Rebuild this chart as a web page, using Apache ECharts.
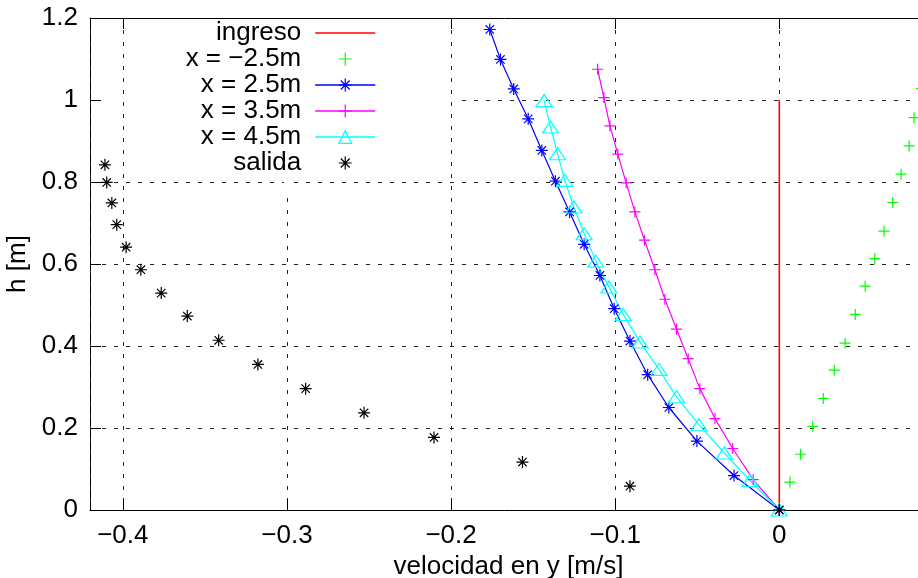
<!DOCTYPE html>
<html>
<head>
<meta charset="utf-8">
<title>velocidad en y</title>
<script src="https://cdn.jsdelivr.net/npm/echarts@6/dist/echarts.min.js"></script>
<style>
  html, body { margin: 0; padding: 0; background: #fff; }
  #main { width: 918px; height: 578px; }
</style>
</head>
<body>
<div id="main"></div>
<script>
// datos: h [m] y velocidad en y [m/s]
var ingresoH = [0, 1.0];
var ingresoV = [0, 0];

var xm25H = [0, 0.068, 0.136, 0.204, 0.272, 0.341, 0.407, 0.477, 0.546, 0.613, 0.680, 0.750, 0.819, 0.888, 0.957, 1.028];
var xm25V = [0, 0.0065, 0.013, 0.0204, 0.0268, 0.0335, 0.0401, 0.0463, 0.0523, 0.0582, 0.0638, 0.0691, 0.0742, 0.0791, 0.0821, 0.0865];

var x25H = [0, 0.084, 0.168, 0.250, 0.330, 0.412, 0.491, 0.572, 0.648, 0.727, 0.802, 0.877, 0.954, 1.027, 1.099, 1.172];
var x25V = [0, -0.0276, -0.0502, -0.0673, -0.0802, -0.091, -0.1006, -0.1093, -0.1189, -0.1278, -0.1364, -0.1447, -0.1530, -0.1618, -0.1699, -0.1764];

var x35H = [0, 0.074, 0.150, 0.223, 0.296, 0.369, 0.441, 0.514, 0.586, 0.658, 0.727, 0.798, 0.868, 0.937, 1.006, 1.075];
var x35V = [0, -0.0159, -0.0284, -0.0392, -0.0484, -0.0555, -0.0626, -0.0697, -0.0758, -0.0821, -0.088, -0.0933, -0.0984, -0.1032, -0.1069, -0.1107];

var x45H = [0, 0.072, 0.139, 0.208, 0.276, 0.343, 0.410, 0.477, 0.544, 0.607, 0.674, 0.739, 0.804, 0.869, 0.934, 0.999];
var x45V = [0, -0.0179, -0.0335, -0.049, -0.0626, -0.0733, -0.0849, -0.0951, -0.1038, -0.1118, -0.1189, -0.1252, -0.1307, -0.1351, -0.1394, -0.1433];

var salidaH = [0, 0.058, 0.117, 0.177, 0.237, 0.296, 0.355, 0.414, 0.473, 0.529, 0.586, 0.641, 0.696, 0.749, 0.799, 0.842];
var salidaV = [0, -0.091, -0.1565, -0.2104, -0.2530, -0.2886, -0.3177, -0.3416, -0.3607, -0.3766, -0.389, -0.398, -0.4037, -0.4067, -0.4098, -0.4109];

var names = ['ingreso', 'x = \u22122.5m', 'x = 2.5m', 'x = 3.5m', 'x = 4.5m', 'salida'];
var colors = ['#ff0000', '#00ff00', '#0000ff', '#ff00ff', '#00ffff', '#000000'];

var FONT = '"Liberation Sans", Arial, sans-serif';
var PLUS = 'path://M0,5L10,5M5,0L5,10';
var STAR = 'path://M0,5L10,5M5,0L5,10M1.5,1.5L8.5,8.5M1.5,8.5L8.5,1.5';
var TRI = 'path://M5,0L10,8.66L0,8.66Z';

function pares(v, h) {
  return v.map(function (x, i) { return [x, h[i]]; });
}
function menos(v) {
  return String(v).replace('-', '\u2212');
}

function serie(i, v, h, symbol, size, anchoLinea) {
  return {
    name: names[i],
    type: 'line',
    data: pares(v, h),
    symbol: symbol,
    symbolSize: size,
    showAllSymbol: true,
    z: 5,
    itemStyle: { color: 'rgba(0,0,0,0)', borderColor: colors[i], borderWidth: 1.2 },
    lineStyle: anchoLinea ? { color: colors[i], width: anchoLinea } : { color: colors[i], width: 0, opacity: 0 },
    emphasis: { disabled: true }
  };
}

var chart = echarts.init(document.getElementById('main'), null, { renderer: 'canvas' });

var gridLine = { show: true, lineStyle: { color: '#222', width: 1, type: [4, 8] } };

chart.setOption({
  animation: false,
  backgroundColor: '#fff',
  grid: { left: 90, top: 18, right: -9, bottom: 68, outerBoundsMode: 'none', containLabel: false },
  textStyle: { fontFamily: FONT },
  legend: {
    orient: 'vertical',
    align: 'right',
    right: 542,
    top: 20,
    padding: 0,
    itemWidth: 60,
    itemHeight: 16,
    itemGap: 0,
    selectedMode: false,
    z: 6,
    textStyle: { fontSize: 26, color: '#000', fontFamily: FONT, padding: [0, 9, 0, 0] },
    data: names.map(function (n, i) {
      var item = {
        name: n,
        itemStyle: { color: 'rgba(0,0,0,0)', borderColor: colors[i], borderWidth: 1.2 },
        lineStyle: { color: colors[i], width: 1.5 }
      };
      if (i === 0) item.itemStyle.opacity = 0;
      if (i === 1 || i === 5) item.lineStyle.opacity = 0;
      return item;
    })
  },
  // fondo blanco de la leyenda (tapa la rejilla como en el original)
  graphic: [
    { type: 'rect', z: 1, silent: true, shape: { x: 101, y: 19, width: 357, height: 159 }, style: { fill: '#fff' } },
    { type: 'rect', z: 3, silent: true, shape: { x: 284, y: 19, width: 7, height: 171 }, style: { fill: '#fff' } }
  ],
  xAxis: [{
    type: 'value',
    min: -0.42,
    max: 0.09,
    z: 2,
    name: 'velocidad en y [m/s]',
    nameLocation: 'middle',
    nameGap: 39,
    nameTextStyle: { fontSize: 26, color: '#000', fontFamily: FONT },
    axisLine: { show: true, onZero: false, lineStyle: { color: '#000', width: 1 } },
    axisTick: { show: true, inside: true, length: 11, lineStyle: { color: '#000' } },
    axisLabel: { fontSize: 26, color: '#000', margin: 13, showMinLabel: false, showMaxLabel: false, formatter: menos },
    splitLine: gridLine
  }, {
    type: 'value',
    position: 'top',
    min: -0.42,
    max: 0.09,
    z: 2,
    axisLine: { show: true, onZero: false, lineStyle: { color: '#000', width: 1 } },
    axisTick: { show: true, inside: true, length: 11, lineStyle: { color: '#000' } },
    axisLabel: { show: false },
    splitLine: { show: false }
  }],
  yAxis: {
    type: 'value',
    min: 0,
    max: 1.2,
    interval: 0.2,
    z: 0,
    name: 'h [m]',
    nameLocation: 'middle',
    nameGap: 50,
    nameTextStyle: { fontSize: 26, color: '#000', fontFamily: FONT },
    axisLine: { show: true, onZero: false, lineStyle: { color: '#000', width: 1 } },
    axisTick: { show: true, inside: true, length: 11, lineStyle: { color: '#000' } },
    axisLabel: { fontSize: 26, color: '#000', margin: 12 },
    splitLine: gridLine
  },
  series: [
    serie(0, ingresoV, ingresoH, 'none', 0, 1.6),
    serie(1, xm25V, xm25H, PLUS, 11, 0),
    serie(2, x25V, x25H, STAR, 12, 1.2),
    serie(3, x35V, x35H, PLUS, 11, 1.2),
    serie(4, x45V, x45H, TRI, [16, 12], 1.2),
    serie(5, salidaV, salidaH, STAR, 12, 0)
  ]
});
</script>
</body>
</html>
